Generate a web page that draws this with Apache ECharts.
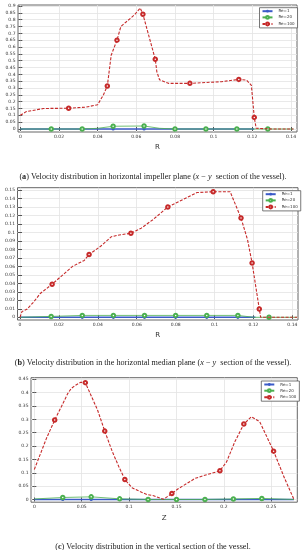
<!DOCTYPE html>
<html><head><meta charset="utf-8">
<script src="https://cdn.jsdelivr.net/npm/echarts@6/dist/echarts.min.js"></script>
<style>html,body{margin:0;padding:0;background:#fff}#c{width:306px;height:550px}</style>
</head><body><div id="c"></div>
<script>
// ---------- Chart (a): horizontal impeller plane ----------
var aRe100X = [0, 0.003, 0.012, 0.025, 0.034, 0.040, 0.043, 0.045, 0.047, 0.050, 0.052, 0.059, 0.062, 0.0634, 0.0698, 0.0706, 0.072, 0.0766, 0.0877, 0.104, 0.113, 0.117, 0.1195, 0.121, 0.122, 0.13, 0.1413];
var aRe100Y = [0.1, 0.127, 0.15, 0.152, 0.16, 0.178, 0.25, 0.315, 0.54, 0.65, 0.75, 0.835, 0.885, 0.84, 0.51, 0.42, 0.36, 0.334, 0.334, 0.346, 0.363, 0.358, 0.32, 0.085, 0.005, 0, 0];
var aRe100M = [0,0,0,1,0,0,0,1,0,1,0,0,0,1,1,0,0,0,1,0,1,0,0,1,0,0,0];
var aRe1X = [0, 0.016, 0.032, 0.048, 0.064, 0.080, 0.096, 0.112, 0.121];
var aRe1Y = [0, 0, 0, 0, 0, 0, 0, 0, 0];
var aRe1M = [0,1,1,1,1,1,1,1,0];
var aRe20X = [0, 0.016, 0.032, 0.040, 0.048, 0.064, 0.072, 0.080, 0.096, 0.112, 0.120, 0.128, 0.1413];
var aRe20Y = [0, 0, 0, 0.005, 0.02, 0.022, 0.005, 0, 0, 0, 0, 0, 0];
var aRe20M = [0,1,1,0,1,1,0,1,1,1,0,1,0];
var aXTicks = [0, 0.02, 0.04, 0.06, 0.08, 0.1, 0.12, 0.14];
var aYTicks = [0, 0.05, 0.1, 0.15, 0.2, 0.25, 0.3, 0.35, 0.4, 0.45, 0.5, 0.55, 0.6, 0.65, 0.7, 0.75, 0.8, 0.85, 0.9];

// ---------- Chart (b): horizontal median plane ----------
var bRe100X = [0, 0.001, 0.0017, 0.0035, 0.007, 0.0104, 0.0165, 0.021, 0.027, 0.033, 0.0355, 0.0416, 0.047, 0.051, 0.057, 0.0623, 0.0683, 0.076, 0.091, 0.0993, 0.108, 0.1136, 0.117, 0.1193, 0.123, 0.1237, 0.13, 0.1425];
var bRe100Y = [0, 0.0067, 0.0086, 0.0094, 0.018, 0.028, 0.039, 0.048, 0.06, 0.067, 0.074, 0.084, 0.095, 0.097, 0.099, 0.105, 0.115, 0.13, 0.147, 0.148, 0.148, 0.117, 0.091, 0.064, 0.0098, 0, 0, 0];
var bRe100M = [0,0,0,0,0,0,1,0,0,0,1,0,0,0,1,0,0,1,0,1,0,1,0,1,1,0,0,0];
var bRe1X = [0, 0.016, 0.032, 0.048, 0.064, 0.080, 0.096, 0.112, 0.121];
var bRe1Y = [0, 0, 0, 0, 0, 0, 0, 0, 0];
var bRe1M = [0,1,1,1,1,1,1,1,0];
var bRe20X = [0, 0.016, 0.032, 0.048, 0.064, 0.080, 0.096, 0.112, 0.120, 0.128, 0.1425];
var bRe20Y = [0, 0.001, 0.0022, 0.0022, 0.0022, 0.0022, 0.0022, 0.0022, 0, 0, 0];
var bRe20M = [0,1,1,1,1,1,1,1,0,1,0];
var bXTicks = [0, 0.02, 0.04, 0.06, 0.08, 0.1, 0.12, 0.14];
var bYTicks = [0, 0.01, 0.02, 0.03, 0.04, 0.05, 0.06, 0.07, 0.08, 0.09, 0.1, 0.11, 0.12, 0.13, 0.14, 0.15];

// ---------- Chart (c): vertical section ----------
var cRe100X = [0, 0.0059, 0.0128, 0.0215, 0.0285, 0.0354, 0.039, 0.044, 0.049, 0.0538, 0.058, 0.0667, 0.0743, 0.0823, 0.0892, 0.0955, 0.103, 0.112, 0.1187, 0.1259, 0.1364, 0.1451, 0.1521, 0.1696, 0.1783, 0.1958, 0.2028, 0.2115, 0.221, 0.229, 0.2378, 0.2524, 0.264, 0.2738];
var cRe100Y = [0.1125, 0.166, 0.229, 0.2975, 0.3475, 0.3975, 0.416, 0.429, 0.439, 0.4375, 0.404, 0.335, 0.256, 0.179, 0.1225, 0.075, 0.044, 0.029, 0.019, 0.014, 0.001, 0.0225, 0.041, 0.079, 0.089, 0.1075, 0.141, 0.216, 0.2825, 0.31, 0.291, 0.181, 0.079, 0.001];
var cRe100M = [0,0,0,1,0,0,0,0,0,1,0,0,1,0,0,1,0,0,0,0,0,1,0,0,0,1,0,0,1,0,0,1,0,0];
var cRe1X = [0, 0.03, 0.06, 0.09, 0.12, 0.15, 0.18, 0.21, 0.24, 0.2738];
var cRe1Y = [0, 0, 0, 0, 0, 0, 0, 0, 0, 0];
var cRe1M = [0,1,1,1,1,1,1,1,1,0];
var cRe20X = [0, 0.03, 0.06, 0.09, 0.12, 0.15, 0.18, 0.21, 0.24, 0.2738];
var cRe20Y = [0.002, 0.0075, 0.01, 0.0025, 0, 0, 0, 0.002, 0.004, 0];
var cRe20M = [0,1,1,1,1,1,1,1,1,0];
var cXTicks = [0, 0.05, 0.1, 0.15, 0.2, 0.25];
var cYTicks = [0, 0.05, 0.1, 0.15, 0.2, 0.25, 0.3, 0.35, 0.4, 0.45];

var seriesNames = ['Re=1', 'Re=20', 'Re=100'];
var captions = [
  '({b|a}) Velocity distribution in horizontal impeller plane ({i|x} − {i|y}  section of the vessel).',
  '({b|b}) Velocity distribution in the horizontal median plane ({i|x} − {i|y}  section of the vessel).',
  '({b|c}) Velocity distribution in the vertical section of the vessel.'
];
var axisNames = ['R', 'R', 'Z'];

// ---------- layout ----------
var grids = [
  {left: 18, top: 5, width: 279, height: 127, xMin: -0.0012, xMax: 0.1431, yMin: -0.022, yMax: 0.9073},
  {left: 17.5, top: 187.7, width: 280.5, height: 132.3, xMin: -0.0013, xMax: 0.1429, yMin: -0.0032, yMax: 0.1527},
  {left: 31, top: 377.7, width: 266.3, height: 124.5, xMin: -0.0035, xMax: 0.2774, yMin: -0.0101, yMax: 0.456}
];
var legendPos = [{left: 259.5, top: 7.7}, {left: 262.7, top: 190.7}, {left: 261.3, top: 381}];
var captionTop = [167.5, 353.5, 537.5];
var xTicks = [aXTicks, bXTicks, cXTicks];
var yTicks = [aYTicks, bYTicks, cYTicks];
var data = [
  [[aRe1X, aRe1Y, aRe1M], [aRe20X, aRe20Y, aRe20M], [aRe100X, aRe100Y, aRe100M]],
  [[bRe1X, bRe1Y, bRe1M], [bRe20X, bRe20Y, bRe20M], [bRe100X, bRe100Y, bRe100M]],
  [[cRe1X, cRe1Y, cRe1M], [cRe20X, cRe20Y, cRe20M], [cRe100X, cRe100Y, cRe100M]]
];

var colors = ['#3b5bc8', '#4cb050', '#c62a2a'];

function fmt(v) { return String(Math.round(v * 1000) / 1000); }

var option = {animation: false, backgroundColor: '#fff', grid: [], xAxis: [], yAxis: [], series: [], legend: [], title: []};

grids.forEach(function (g, gi) {
  option.grid.push({left: g.left, top: g.top, width: g.width, height: g.height, show: true,
    borderColor: '#666', borderWidth: 1, backgroundColor: 'transparent'});
  option.xAxis.push({type: 'value', gridIndex: gi, min: g.xMin, max: g.xMax,
    name: axisNames[gi], nameLocation: 'middle', nameGap: 12,
    nameTextStyle: {fontSize: 7, color: '#333', fontFamily: 'DejaVu Sans'},
    axisLine: {show: false},
    axisTick: {show: true, inside: true, length: 2, customValues: xTicks[gi], lineStyle: {color: '#555'}},
    axisLabel: {show: true, customValues: xTicks[gi], margin: 2.5, formatter: fmt, fontSize: 4.5, color: '#333', fontFamily: 'DejaVu Sans'},
    splitLine: {show: true, lineStyle: {color: '#e3e3e3', width: 0.8}}
  });
  option.xAxis.push({type: 'value', gridIndex: gi, position: 'top', min: g.xMin, max: g.xMax,
    axisLine: {show: false}, axisLabel: {show: false},
    axisTick: {show: true, inside: true, length: 2, customValues: xTicks[gi], lineStyle: {color: '#555'}},
    splitLine: {show: false}
  });
  option.yAxis.push({type: 'value', gridIndex: gi, min: g.yMin, max: g.yMax,
    axisLine: {show: false},
    axisTick: {show: true, inside: true, length: 2, customValues: yTicks[gi], lineStyle: {color: '#555'}},
    axisLabel: {show: true, customValues: yTicks[gi], margin: 2.5, formatter: fmt, fontSize: 4.5, color: '#333', fontFamily: 'DejaVu Sans'},
    splitLine: {show: true, lineStyle: {color: '#e3e3e3', width: 0.8}}
  });
  option.yAxis.push({type: 'value', gridIndex: gi, position: 'right', min: g.yMin, max: g.yMax,
    axisLine: {show: false}, axisLabel: {show: false},
    axisTick: {show: true, inside: true, length: 2, customValues: yTicks[gi], lineStyle: {color: '#555'}},
    splitLine: {show: false}
  });
  data[gi].forEach(function (s, si) {
    var xs = s[0], ys = s[1], ms = s[2];
    var sym = si === 0 ? 'circle' : 'emptyCircle';
    var pts = xs.map(function (x, k) {
      return {value: [x, ys[k]], symbol: ms[k] ? sym : 'none'};
    });
    option.series.push({
      type: 'line', name: seriesNames[si], xAxisIndex: gi * 2, yAxisIndex: gi * 2,
      data: pts, symbol: sym, showSymbol: true, symbolSize: si === 0 ? 3.2 : 3.5, z: 2 + si,
      color: colors[si],
      lineStyle: {color: colors[si], width: si === 0 ? 1.5 : (si === 1 ? 0.8 : 1.1), type: si === 2 ? [3, 1.5] : 'solid'},
      itemStyle: {color: colors[si], borderWidth: si === 1 ? 0.7 : 0.8},
      emphasis: {disabled: true}
    });
  });
  option.legend.push({
    left: legendPos[gi].left, top: legendPos[gi].top, orient: 'vertical',
    data: seriesNames, itemWidth: 10, itemHeight: 3.5, itemGap: 1.8,
    padding: [1.5, 3, 1.5, 2], borderColor: '#555', borderWidth: 0.8, backgroundColor: '#fff',
    textStyle: {fontSize: 4, color: '#333', fontFamily: 'DejaVu Sans', padding: [0, 0, 0, 1]},
    selectedMode: false
  });
  option.title.push({
    text: captions[gi], left: 'center', top: captionTop[gi],
    textStyle: {fontFamily: 'Liberation Serif', fontSize: 8.2, fontWeight: 'normal', color: '#222',
      rich: {b: {fontFamily: 'Liberation Serif', fontSize: 8.2, fontWeight: 'bold', color: '#222'},
             i: {fontFamily: 'Liberation Serif', fontSize: 8.2, fontStyle: 'italic', color: '#222'}}}
  });
});

var chart = echarts.init(document.getElementById('c'), null, {renderer: 'canvas', width: 306, height: 550});
chart.setOption(option);
</script></body></html>
